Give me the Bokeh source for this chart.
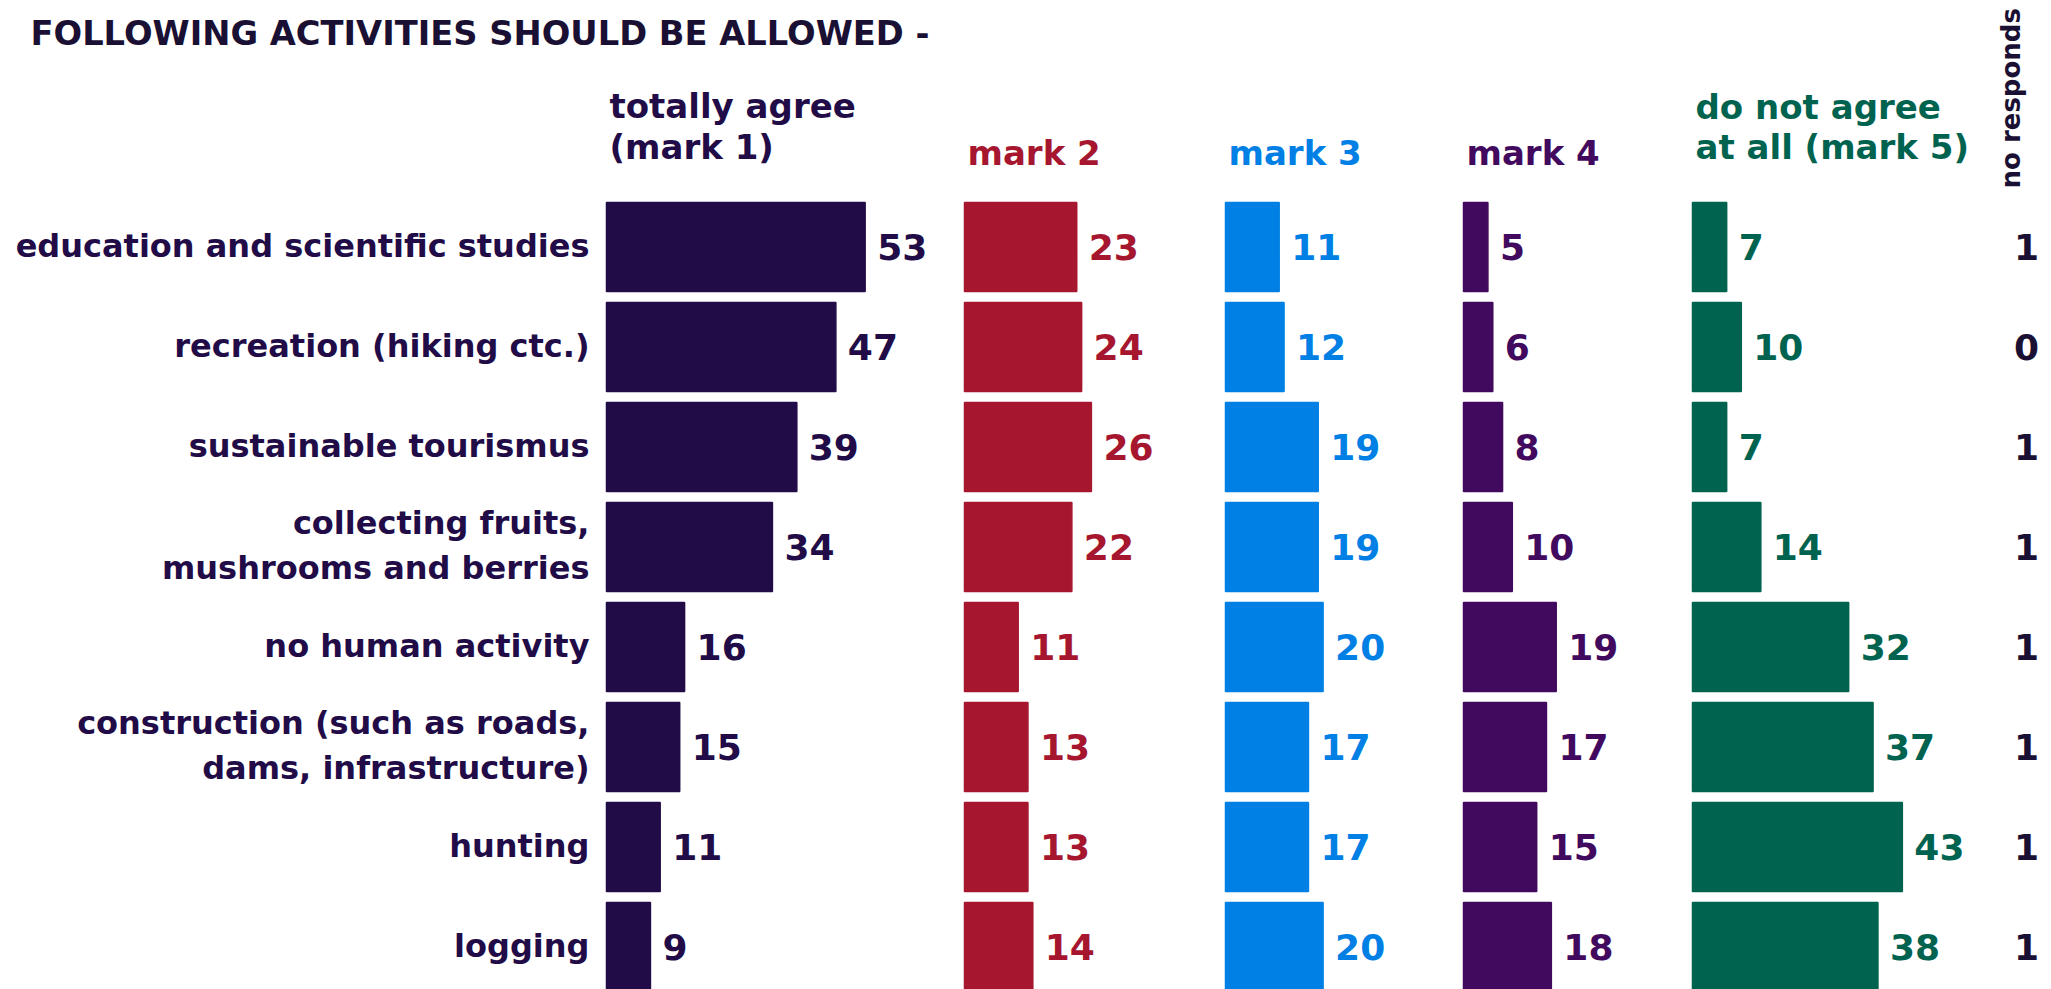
import math
from bokeh.plotting import figure
from bokeh.models import Range1d, ColumnDataSource
from bokeh.embed import file_html
from bokeh.resources import INLINE
from bokeh.core.properties import value

# ---------------- data ----------------
title_text = "FOLLOWING ACTIVITIES SHOULD BE ALLOWED -"
activities = [
    "education and scientific studies",
    "recreation (hiking ctc.)",
    "sustainable tourismus",
    "collecting fruits,\nmushrooms and berries",
    "no human activity",
    "construction (such as roads,\ndams, infrastructure)",
    "hunting",
    "logging",
]
mark1 = [53, 47, 39, 34, 16, 15, 11, 9]
mark2 = [23, 24, 26, 22, 11, 13, 13, 14]
mark3 = [11, 12, 19, 19, 20, 17, 17, 20]
mark4 = [5, 6, 8, 10, 19, 17, 15, 18]
mark5 = [7, 10, 7, 14, 32, 37, 43, 38]
no_responds = [1, 0, 1, 1, 1, 1, 1, 1]

header1 = ["totally agree", "(mark 1)"]
header2 = ["mark 2"]
header3 = ["mark 3"]
header4 = ["mark 4"]
header5 = ["do not agree", "at all (mark 5)"]
no_resp_header = "no responds"

# ---------------- style / layout ----------------
colors = ["#220C48", "#A6172F", "#0080E5", "#420A5E", "#00634F"]
nr_color = "#1A1033"
W, H = 2051, 989
PX = 4.88          # pixels per percentage point
PITCH = 100.0      # pixels per row
ROW0 = 246.5       # y of first row centre

def ux(px):
    return px / PX

def ry(py):
    return (py - ROW0) / PITCH

col_left_px = [606, 964, 1225, 1463, 1692]
series = [mark1, mark2, mark3, mark4, mark5]
headers = [header1, header2, header3, header4, header5]
header_base_px = [[105, 146], [152], [152], [152], [106, 146]]

p = figure(width=W, height=H, output_backend="svg", toolbar_location=None,
           x_range=Range1d(0, W / PX), y_range=Range1d(ry(H), ry(0)),
           x_axis_location=None, y_axis_location=None, min_border=0)
p.grid.visible = False
p.outline_line_color = None
p.background_fill_color = "white"
p.border_fill_color = "white"

rows = list(range(len(activities)))
FONT = value("DejaVu Sans")

for i, vals in enumerate(series):
    left = ux(col_left_px[i])
    src = ColumnDataSource(dict(
        y=rows,
        left=[left] * len(vals),
        right=[left + v for v in vals],
        txt=[str(v) for v in vals],
    ))
    p.hbar(y="y", left="left", right="right", height=0.89, source=src,
           fill_color=colors[i], line_color=colors[i], line_width=1.5)
    p.text(x="right", y="y", text="txt", source=src, x_offset=12, y_offset=0,
           text_font=FONT, text_font_style="bold", text_font_size="36px",
           text_color=colors[i], text_align="left", text_baseline="middle")
    for line, base in zip(headers[i], header_base_px[i]):
        p.text(x=[ux(col_left_px[i] + 3)], y=[ry(base)], text=[line],
               text_font=FONT, text_font_style="bold", text_font_size="34px",
               text_color=colors[i], text_align="left", text_baseline="alphabetic")

# row labels
p.text(x=[ux(589)] * len(rows), y=rows, text=activities, y_offset=-1.5,
       text_font=FONT, text_font_style="bold", text_font_size="32px",
       text_color=colors[0], text_align="right", text_baseline="middle",
       text_line_height=1.2)

# no responds
p.text(x=[ux(2026)] * len(rows), y=rows, text=[str(v) for v in no_responds], y_offset=0,
       text_font=FONT, text_font_style="bold", text_font_size="36px",
       text_color=nr_color, text_align="center", text_baseline="middle")
p.text(x=[ux(2010)], y=[ry(188)], text=[no_resp_header], angle=math.pi / 2,
       text_font=FONT, text_font_style="bold", text_font_size="26px",
       text_color=nr_color, text_align="left", text_baseline="alphabetic")

# title
p.text(x=[ux(30)], y=[ry(33)], text=[title_text],
       text_font=FONT, text_font_style="bold", text_font_size="33.7px",
       text_color="#1A1033", text_align="left", text_baseline="alphabetic")

open("out.html", "w").write(file_html(p, INLINE))
